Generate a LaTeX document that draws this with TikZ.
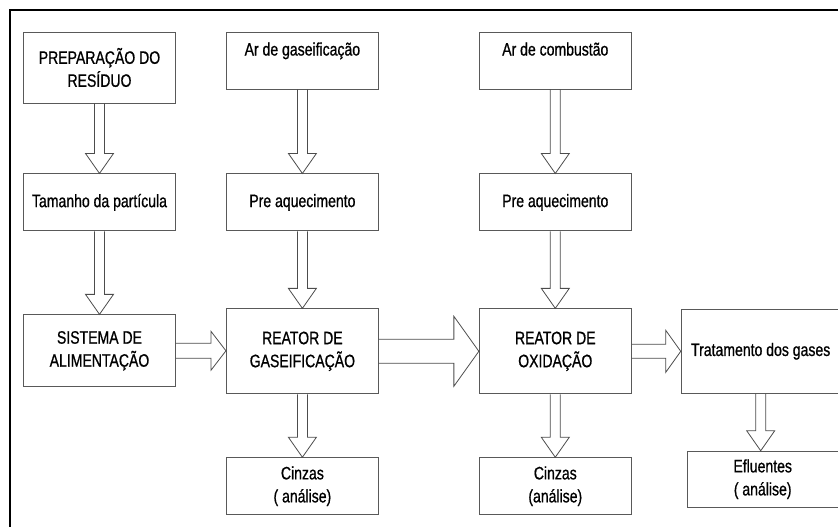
\documentclass[tikz,border=0pt]{standalone}
\usepackage{fontspec}
\setmainfont[FakeStretch=0.78,FakeBold=0.8]{Liberation Sans}
\usetikzlibrary{positioning,calc}

% hollow block arrows: shaft drawn as two lines, open triangular head
\newcommand{\downflow}[2]{%
  \draw[flow] let \p1=(#1.south), \p2=(#2.north) in
    (\x1-5pt,\y1) -- (\x1-5pt,\y2+20pt) -- (\x1-14pt,\y2+20pt) -- (\x1,\y2)
    -- (\x1+14pt,\y2+20pt) -- (\x1+5pt,\y2+20pt) -- (\x1+5pt,\y1);}
\newcommand{\rightflow}[5]{%
  \draw[flow] let \p1=(#1.east), \p2=(#2.west) in
    (\x1,\y1+#3) -- (\x2-#5,\y1+#3) -- (\x2-#5,\y1+#4) -- (\x2,\y1)
    -- (\x2-#5,\y1-#4) -- (\x2-#5,\y1-#3) -- (\x1,\y1-#3);}

\begin{document}
\begin{tikzpicture}[
  font=\fontsize{18}{23}\selectfont,
  box/.style={draw=black!65,line width=0.9pt,fill=white,align=center,inner sep=0pt,
    minimum width=152pt,minimum height=57pt},
  tall/.style={box,minimum height=71pt},
  reactor/.style={box,minimum height=85pt},
  flow/.style={draw=black!70,line width=0.8pt,line join=miter},
  frame/.style={line width=2.4pt}]

  \useasboundingbox (0,0) rectangle (838pt,-527pt);
  \draw[frame] (10pt,-527pt) |- (838pt,-10pt);

  % waste preparation line
  \node[tall] (prep) at (99.5pt,-67.5pt) {PREPARAÇÃO DO\\RESÍDUO};
  \node[box,below=70pt of prep] (part) {Tamanho da partícula};
  \node[box,minimum height=72pt,below=83pt of part] (feed) {SISTEMA DE\\ALIMENTAÇÃO};

  % gasification line
  \node[box,right=50pt of prep,yshift=7pt] (airg) {Ar de gaseificação\\ \mbox{}};
  \node[box,below=84pt of airg] (heat1) {Pre aquecimento};
  \node[reactor,below=77pt of heat1] (gasif) {REATOR DE\\GASEIFICAÇÃO};
  \node[box,below=63pt of gasif] (ash1) {Cinzas\\( análise)};

  % oxidation line
  \node[box,right=100pt of airg] (airc) {Ar de combustão\\ \mbox{}};
  \node[box,below=84pt of airc] (heat2) {Pre aquecimento};
  \node[reactor,below=77pt of heat2] (oxid) {REATOR DE\\OXIDAÇÃO};
  \node[box,below=63pt of oxid] (ash2) {Cinzas\\(análise)};

  % gas treatment
  \node[box,minimum width=159pt,minimum height=84pt,right=49pt of oxid] (treat)
    {Tratamento dos gases};
  \node[box,minimum width=151pt,minimum height=56pt,below=57pt of treat,xshift=2pt] (eflu)
    {Efluentes\\( análise)};

  \downflow{prep}{part}
  \downflow{part}{feed}
  \downflow{airg}{heat1}
  \downflow{heat1}{gasif}
  \downflow{gasif}{ash1}
  \downflow{airc}{heat2}
  \downflow{heat2}{oxid}
  \downflow{oxid}{ash2}
  \downflow{treat}{eflu}
  \rightflow{feed}{gasif}{7.5pt}{19.5pt}{15pt}
  \rightflow{gasif}{oxid}{12pt}{35pt}{25pt}
  \rightflow{oxid}{treat}{7pt}{21pt}{15pt}

\end{tikzpicture}
\end{document}
